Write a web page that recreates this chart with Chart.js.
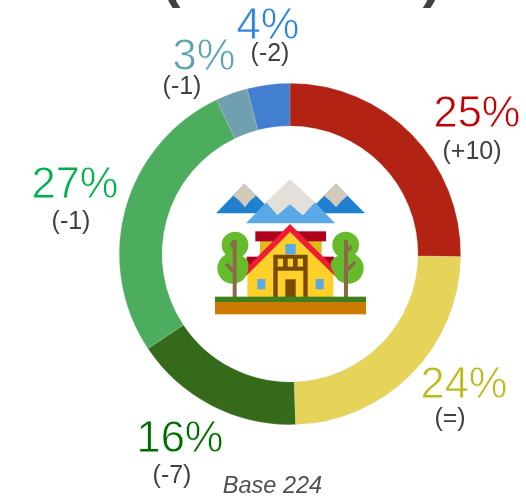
<!DOCTYPE html>
<html><head><meta charset="utf-8">
<script src="https://cdn.jsdelivr.net/npm/chart.js@4"></script>
<style>html,body{margin:0;padding:0;background:#fff;width:526px;height:496px;overflow:hidden}
#w{position:relative;width:526px;height:496px}canvas{position:absolute;left:0;top:0}
svg{position:absolute;left:200px;top:170px}</style></head><body>
<div id="w"><canvas id="c" width="526" height="496"></canvas>
<svg width="180" height="150" viewBox="0 0 540 450">
<path d="M48 130L133 42L222 130Z" fill="#2080d0"/><path d="M100 77L133 42L168 77L150 92L135 112L118 92Z" fill="#d3cabb"/>
<path d="M320 130L408 42L495 130Z" fill="#2080d0"/><path d="M372 77L408 42L443 77L425 92L408 112L390 92Z" fill="#d3cabb"/>
<path d="M138 160L205 90L232 135L270 102L308 135L338 90L405 160Z" fill="#5aa9e6"/>
<path d="M198 97L270 28L345 97L310 135L270 102L232 135Z" fill="#e4dfd8"/>
<rect x="180" y="205" width="185" height="60" fill="#e0b81a"/><rect x="166" y="184" width="212" height="30" fill="#b00020"/>
<rect x="140" y="260" width="262" height="30" fill="#b00020"/>
<path d="M142 300L270 178L400 300V382H142Z" fill="#ffd02a"/>
<path d="M125 308L270 162L418 308L405 318L270 186L138 318Z" fill="#ee1c35"/>
<rect x="256" y="222" width="31" height="31" fill="#5aa9e6"/><rect x="172" y="327" width="24" height="31" fill="#5aa9e6"/><rect x="347" y="327" width="24" height="31" fill="#5aa9e6"/>
<path d="M220 254H323V386H310V302H233V386H220Z" fill="#7a4a00"/><rect x="233" y="266" width="16" height="24" fill="#ffd02a"/><rect x="263" y="266" width="16" height="24" fill="#ffd02a"/><rect x="293" y="266" width="16" height="24" fill="#ffd02a"/>
<rect x="256" y="328" width="31" height="58" fill="#7a4a00"/>
<circle cx="105" cy="225" r="40" fill="#66bb2a"/><circle cx="98" cy="295" r="46" fill="#66bb2a"/><circle cx="118" cy="285" r="28" fill="#66bb2a"/>
<circle cx="437" cy="225" r="40" fill="#66bb2a"/><circle cx="445" cy="295" r="46" fill="#66bb2a"/><circle cx="420" cy="285" r="28" fill="#66bb2a"/>
<path d="M98 210H110V385H98V310L75 285L82 278L98 295V235L88 226Z" fill="#8a6a4a"/>
<path d="M432 210H444V232L455 225V238L444 245V290L462 272L468 280L444 305V385H432Z" fill="#8a6a4a"/>
<rect x="45" y="380" width="453" height="16" fill="#3f7f1e"/><rect x="45" y="396" width="453" height="37" fill="#cc7a00"/>
</svg></div>
<script>
const categories = ["A","B","C","D","E","F"];
const shares = [25,24,16,27,3,4];
const shareLabels = ["25%","24%","16%","27%","3%","4%"];
const changes = ["(+10)","(=)","(-7)","(-1)","(-1)","(-2)"];
const sliceColors = ["#b22314","#e5d35a","#366a1b","#4cad5e","#709fb0","#437fcf"];
const textColors = ["#c00000","#bdb91a","#006b00","#00ae50","#5ba3b0","#2c84d9"];
const baseLabel = "Base 224";
const labelAnchors = [[477,115],[464,386],[180,440],[75,186],[204,58],[268,27]];
const changeAnchors = [[472,152],[450,419],[172,476],[71,222],[182,87],[270,54]];

const labels = {
  id:"labels",
  afterDraw(ch){
    const x=ch.ctx; x.save(); x.textAlign="center"; x.textBaseline="middle";
    shareLabels.forEach((t,i)=>{x.font='43.5px "Liberation Sans"';x.fillStyle=textColors[i];x.fillText(t,labelAnchors[i][0],labelAnchors[i][1]);
      x.strokeStyle="rgba(255,255,255,0.9)";x.lineWidth=0.8;x.strokeText(t,labelAnchors[i][0],labelAnchors[i][1]);
      x.font='25px "Liberation Sans"';x.fillStyle="#404040";x.fillText(changes[i],changeAnchors[i][0],changeAnchors[i][1]);});
    x.font='italic 23.5px "Liberation Sans"';x.fillStyle="#505050";x.fillText(baseLabel,272.5,486);
    x.font='bold 56px "Liberation Sans"';x.fillStyle="#404040";x.textBaseline="alphabetic";x.fillText("(",171,-4);x.fillText(")",432,-4);
    x.restore();
  }
};
new Chart(document.getElementById("c"),{
  type:"doughnut",
  data:{labels:categories,datasets:[{data:shares,backgroundColor:sliceColors,borderColor:"rgba(210,210,210,0.35)",borderWidth:0.6}]},
  options:{responsive:false,animation:false,cutout:"75%",
    layout:{padding:{left:119,right:65,top:83,bottom:71}},
    plugins:{legend:{display:false},tooltip:{enabled:false}}},
  plugins:[labels]
});
</script></body></html>
